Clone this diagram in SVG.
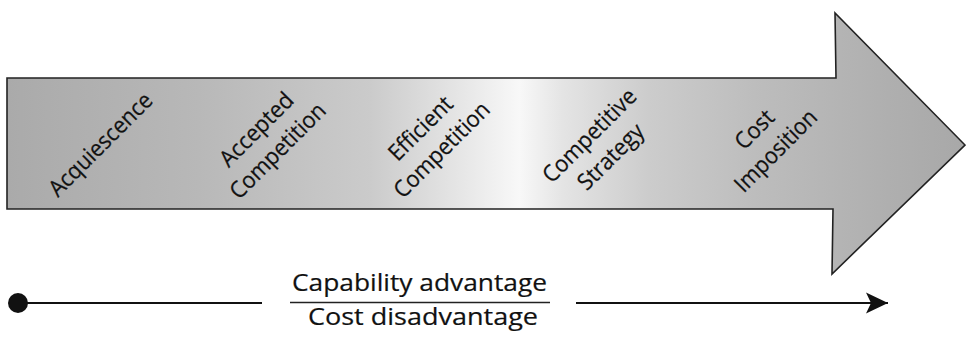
<svg xmlns="http://www.w3.org/2000/svg" width="966" height="338" viewBox="0 0 966 338">
  <defs>
    <linearGradient id="arrowFill" gradientUnits="userSpaceOnUse" x1="7" y1="0" x2="965" y2="0">
      <stop offset="0" stop-color="#aaaaaa"/>
      <stop offset="0.2" stop-color="#b8b8b8"/>
      <stop offset="0.38" stop-color="#cbcbcb"/>
      <stop offset="0.48" stop-color="#e8e8e8"/>
      <stop offset="0.535" stop-color="#f8f8f8"/>
      <stop offset="0.58" stop-color="#e4e4e4"/>
      <stop offset="0.67" stop-color="#cccccc"/>
      <stop offset="0.78" stop-color="#bdbdbd"/>
      <stop offset="0.92" stop-color="#afafaf"/>
      <stop offset="1" stop-color="#a8a8a8"/>
    </linearGradient>
    <marker id="arrowHead" markerUnits="userSpaceOnUse" markerWidth="24" markerHeight="24" viewBox="0 0 24 24" refX="22" refY="12" orient="auto">
      <path d="M0,1.5 L22,12 L0,22.5 L5,12 Z" fill="#111"/>
    </marker>
  </defs>
  <style>
    .stage { font-family: "Open Sans", "Noto Sans", "Liberation Sans", sans-serif; font-size: 23px; fill: #111; stroke: #111; stroke-width: 0.25; text-anchor: middle; }
    .axis { font-family: "Open Sans", "Noto Sans", "Liberation Sans", sans-serif; font-size: 24px; fill: #111; stroke: #111; stroke-width: 0.2; text-anchor: middle; }
    .conn { stroke: #111; stroke-width: 2; fill: none; }
  </style>
  <rect x="0" y="0" width="966" height="338" fill="#ffffff"/>

  <g id="stage-arrow">
    <polygon points="7,78 836,78 835,13 965,145 832,274 833,209 7,209" fill="url(#arrowFill)" stroke="#222" stroke-width="1.6" stroke-linejoin="miter"/>
  </g>

  <g id="label-acquiescence" transform="translate(106,150) rotate(-45)">
    <text class="stage" x="0" y="0" textLength="136" lengthAdjust="spacingAndGlyphs">Acquiescence</text>
  </g>
  <g id="label-accepted-competition" transform="translate(262,135) rotate(-45)">
    <text class="stage" x="0" y="0" textLength="94" lengthAdjust="spacingAndGlyphs">Accepted</text>
    <text class="stage" x="0" y="30" textLength="125" lengthAdjust="spacingAndGlyphs">Competition</text>
  </g>
  <g id="label-efficient-competition" transform="translate(426,134) rotate(-45)">
    <text class="stage" x="0" y="0" textLength="80" lengthAdjust="spacingAndGlyphs">Efficient</text>
    <text class="stage" x="0" y="30" textLength="125" lengthAdjust="spacingAndGlyphs">Competition</text>
  </g>
  <g id="label-competitive-strategy" transform="translate(595,141) rotate(-45)">
    <text class="stage" x="0" y="0" textLength="122" lengthAdjust="spacingAndGlyphs">Competitive</text>
    <text class="stage" x="0" y="30" textLength="83" lengthAdjust="spacingAndGlyphs">Strategy</text>
  </g>
  <g id="label-cost-imposition" transform="translate(760,135) rotate(-45)">
    <text class="stage" x="0" y="0" textLength="45" lengthAdjust="spacingAndGlyphs">Cost</text>
    <text class="stage" x="0" y="30" textLength="106" lengthAdjust="spacingAndGlyphs">Imposition</text>
  </g>

  <g id="connectors">
    <circle cx="18" cy="303" r="10" fill="#111"/>
    <line class="conn" x1="18" y1="303" x2="262" y2="303"/>
    <line class="conn" x1="576" y1="303" x2="888" y2="303" marker-end="url(#arrowHead)"/>
  </g>

  <g id="axis-label">
    <text class="axis" x="419.5" y="291" textLength="255" lengthAdjust="spacingAndGlyphs">Capability advantage</text>
    <line x1="290" y1="302.5" x2="550" y2="302.5" stroke="#222" stroke-width="1.5"/>
    <text class="axis" x="423" y="325" textLength="230" lengthAdjust="spacingAndGlyphs">Cost disadvantage</text>
  </g>
</svg>
